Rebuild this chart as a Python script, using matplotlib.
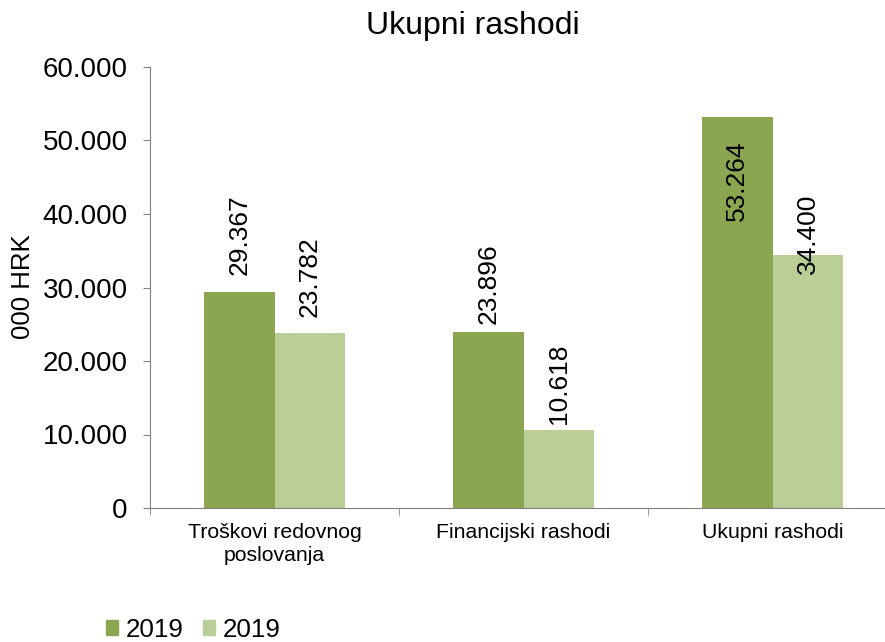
import matplotlib.pyplot as plt
import numpy as np
from matplotlib.patches import Patch

plt.rcParams['font.family'] = ['Liberation Sans', 'DejaVu Sans']

categories = ["Troškovi redovnog\nposlovanja", "Financijski rashodi", "Ukupni rashodi"]
series_a = [29367, 23896, 53264]
series_b = [23782, 10618, 34400]
labels_a = ["29.367", "23.896", "53.264"]
labels_b = ["23.782", "10.618", "34.400"]
legend_names = ["2019", "2019"]
yticks = [0, 10000, 20000, 30000, 40000, 50000, 60000]
ytick_labels = ["0", "10.000", "20.000", "30.000", "40.000", "50.000", "60.000"]

dark = "#8BA650"
light = "#BACF97"

fig = plt.figure(figsize=(8.85, 6.42), dpi=100)
ax = fig.add_axes([150 / 885, (642 - 508) / 642, 1 - 150 / 885, (508 - 67) / 642])

x = np.arange(len(categories))
w = 0.283
bars_a = ax.bar(x - w / 2, series_a, w, color=dark)
bars_b = ax.bar(x + w / 2, series_b, w, color=light)

ax.set_yticks(yticks)
ax.set_yticklabels(ytick_labels, fontsize=20)
ax.set_xticks(x)
ax.set_xticklabels(categories, fontsize=15.3, linespacing=1.25)
ax.tick_params(axis='x', length=0, pad=11)
ax.set_xticks([-0.5, 0.5, 1.5], minor=True)
ax.tick_params(axis='x', which='minor', length=5, color='#808080', direction='out')
ax.tick_params(axis='y', length=5, color='#808080', direction='out', pad=11)
ax.set_ylim(0, 60000)
ax.set_xlim(-0.5, 2.5 - 12 / 249)

for s in ['top', 'right']:
    ax.spines[s].set_visible(False)
for s in ['left', 'bottom']:
    ax.spines[s].set_color('#808080')

fig.text(23 / 885, 1 - 287 / 642, "000 HRK", rotation=90, ha='center', va='center', fontsize=18.5)
fig.text(473 / 885, 1 - 26 / 642, "Ukupni rashodi", ha='center', va='center', fontsize=23)

# label offsets in points from bar top to label bottom (Excel-style placement)
offs_a = [12, 6, -75]
offs_b = [12, 4.5, -13.7]
for bars, labels, offs in [(bars_a, labels_a, offs_a), (bars_b, labels_b, offs_b)]:
    for b, lab, o in zip(bars, labels, offs):
        cx = b.get_x() + b.get_width() / 2
        ax.annotate(lab, (cx, b.get_height()), xytext=(0, o), textcoords='offset points',
                    ha='center', va='bottom', rotation=90, fontsize=19)

handles = [Patch(color=dark), Patch(color=light)]
fig.legend(handles, legend_names, loc='lower left', bbox_to_anchor=(106 / 885, 0),
           ncol=2, frameon=False, fontsize=18.7, handlelength=0.46, handleheight=0.5,
           handletextpad=0.31, columnspacing=0.73, borderpad=0, borderaxespad=0)

fig.savefig("out.png", dpi=100)
